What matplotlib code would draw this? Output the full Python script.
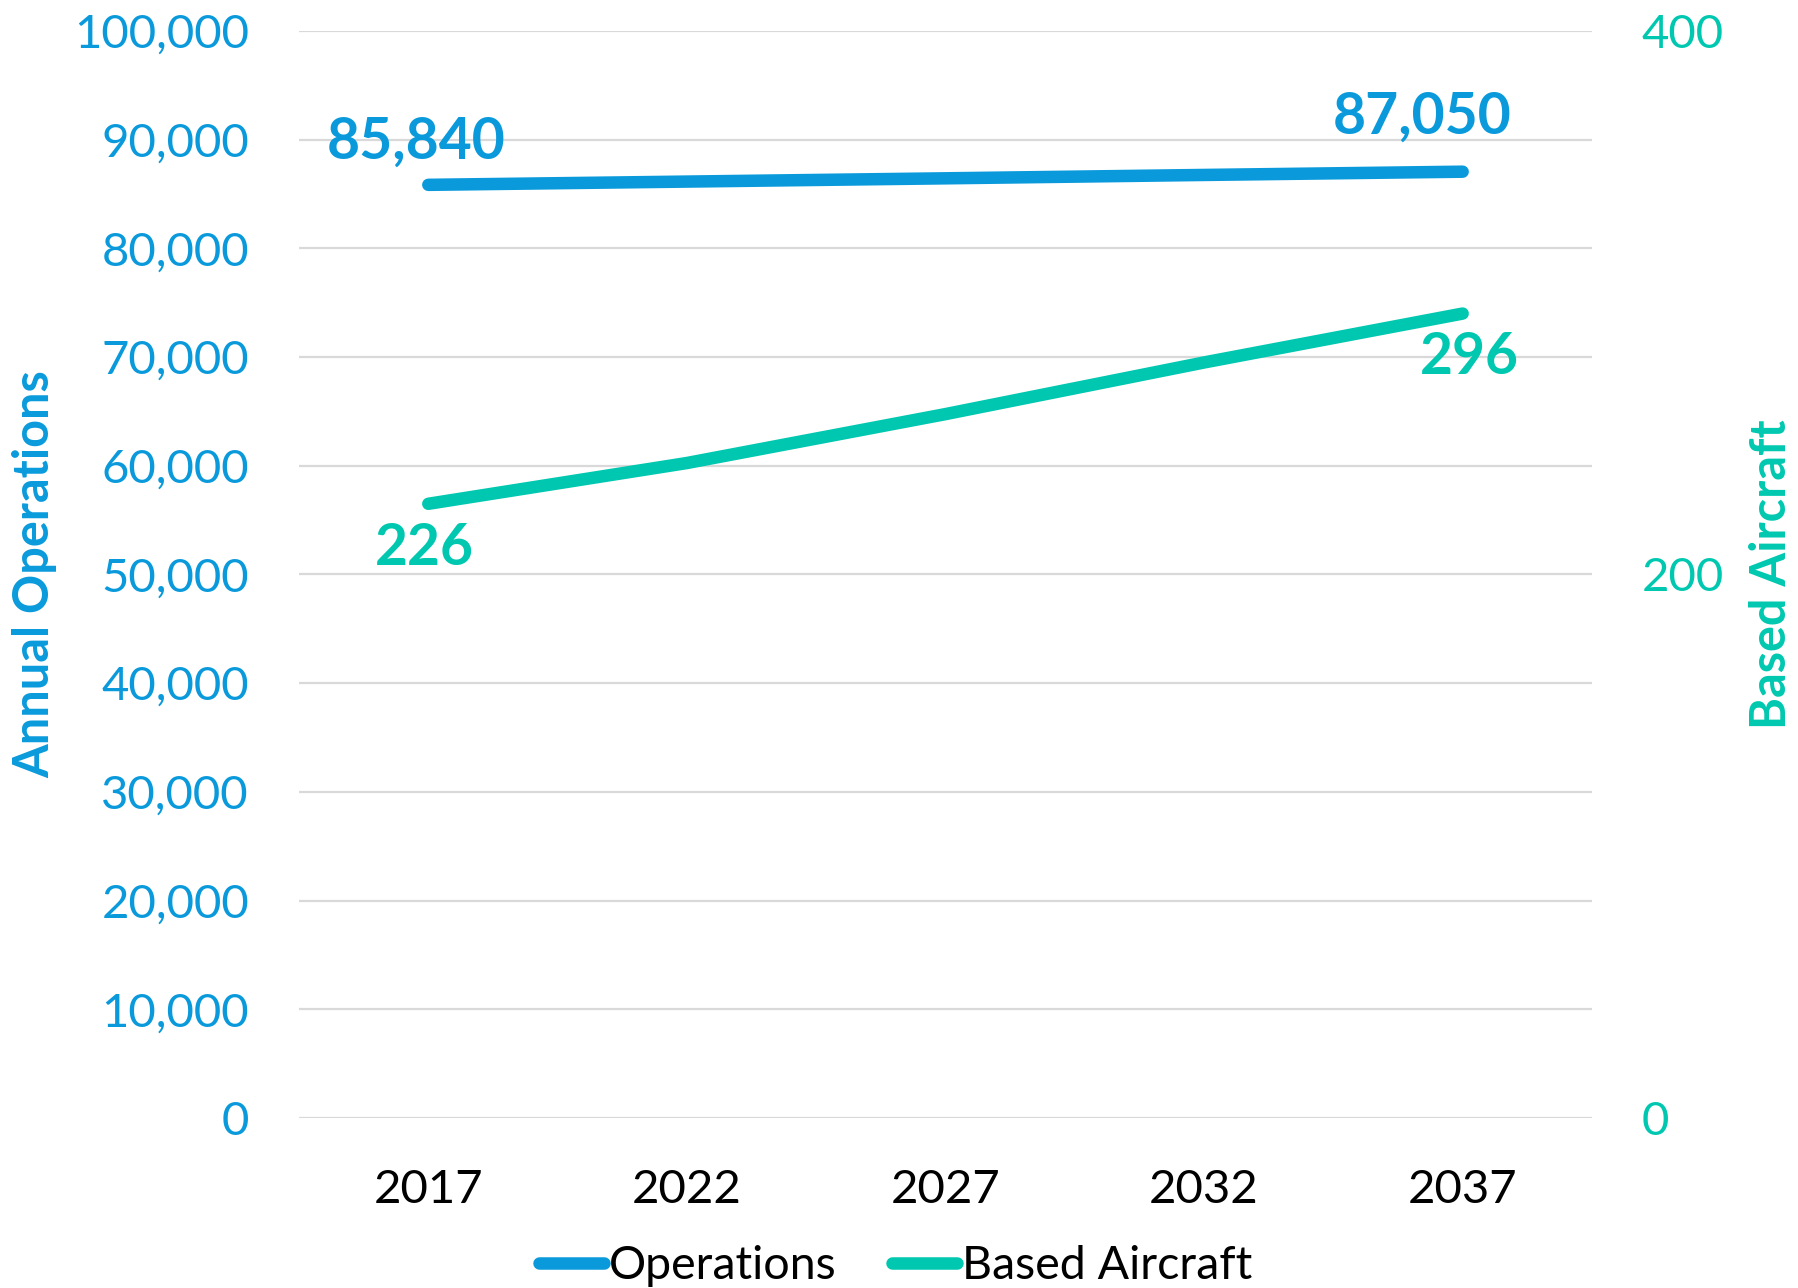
import matplotlib.pyplot as plt

plt.rcParams['font.family'] = ['Lato', 'DejaVu Sans']

years = ['2017', '2022', '2027', '2032', '2037']
operations = [85840, 86140, 86440, 86750, 87050]
based_aircraft = [226, 241, 259, 278, 296]

ops_ticks = list(range(0, 100001, 10000))
ba_ticks = [0, 200, 400]

blue = '#0A9ADB'
teal = '#00C8B0'
grid_grey = '#D9D9D9'

fig = plt.figure(figsize=(17.98, 12.88), dpi=100)
ax = fig.add_axes([0.1663, 0.132, 0.7191, 0.844])
ax2 = ax.twinx()

x = list(range(len(years)))

# horizontal gridlines on the primary axis
ax.set_ylim(0, 100000)
ax.set_yticks(ops_ticks)
ax.set_yticklabels([f'{v:,}' for v in ops_ticks])
ax.grid(axis='y', color=grid_grey, linewidth=1.6)
ax.set_axisbelow(True)
ax.set_xlim(-0.5, len(years) - 0.5)
ax.set_xticks(x)
ax.set_xticklabels(years)

ops_line, = ax.plot(x, operations, color=blue, linewidth=9,
                    solid_capstyle='round', label='Operations', zorder=3)

ax2.set_ylim(0, 400)
ax2.set_yticks(ba_ticks)
ba_line, = ax2.plot(x, based_aircraft, color=teal, linewidth=9,
                    solid_capstyle='round', label='Based Aircraft', zorder=3)

for a in (ax, ax2):
    for s in a.spines.values():
        s.set_visible(False)

ax.tick_params(axis='y', length=0, pad=36, labelsize=34, labelcolor=blue)
ax.tick_params(axis='x', length=0, pad=37, labelsize=34, labelcolor='black')
ax2.tick_params(axis='y', length=0, pad=36, labelsize=34, labelcolor=teal)

ax.set_ylabel('Annual Operations', fontsize=35, fontweight='bold', color=blue, labelpad=12)
ax2.set_ylabel('Based Aircraft', fontsize=35, fontweight='bold', color=teal, labelpad=18)

# value labels at both ends
ax.annotate(f'{operations[0]:,}', (x[0], operations[0]), xytext=(-9, 31),
            textcoords='offset points', ha='center', va='center',
            fontsize=41, fontweight='bold', color=blue)
ax.annotate(f'{operations[-1]:,}', (x[-1], operations[-1]), xytext=(-29, 39),
            textcoords='offset points', ha='center', va='center',
            fontsize=41, fontweight='bold', color=blue)
ax2.annotate(f'{based_aircraft[0]}', (x[0], based_aircraft[0]), xytext=(-3, -32),
             textcoords='offset points', ha='center', va='center',
             fontsize=41, fontweight='bold', color=teal)
ax2.annotate(f'{based_aircraft[-1]}', (x[-1], based_aircraft[-1]), xytext=(5, -32),
             textcoords='offset points', ha='center', va='center',
             fontsize=41, fontweight='bold', color=teal)

fig.legend(handles=[ops_line, ba_line], loc='center', bbox_to_anchor=(0.498, 0.017),
           ncol=2, frameon=False, fontsize=33.5, handlelength=1.4,
           handletextpad=0.1, columnspacing=1.2)

fig.savefig('out.png', dpi=100)
